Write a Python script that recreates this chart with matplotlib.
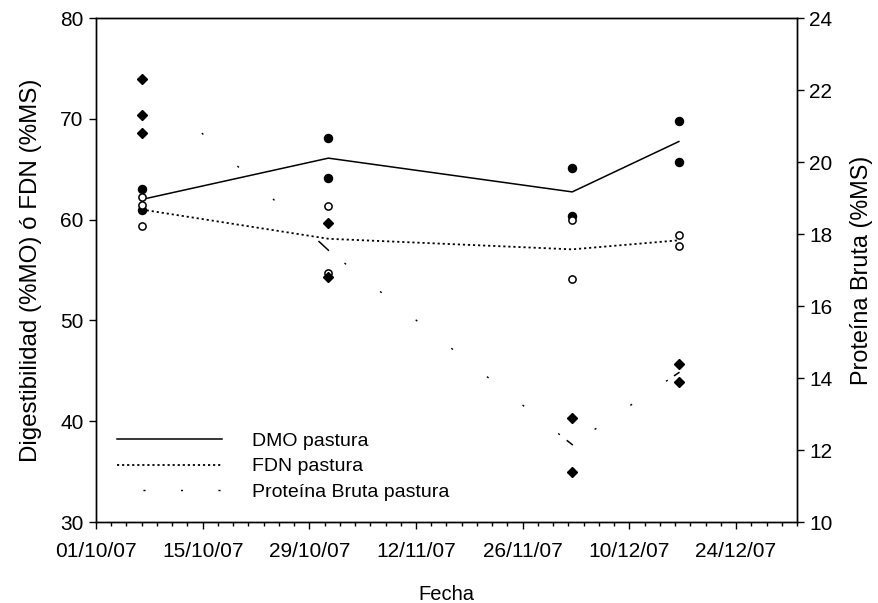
import numpy as np
import matplotlib.pyplot as plt
import matplotlib.dates as mdates
import pandas as pd
from matplotlib.lines import Line2D

plt.rcParams['font.family'] = ['Liberation Sans', 'DejaVu Sans']

"""
data (read off the figure)
"""
fechas = pd.to_datetime(['2007-10-07 00:00', '2007-10-31 12:00',
                         '2007-12-02 12:00', '2007-12-16 12:00'])

# DMO pastura (%MO): individual samples and mean line
dmo_pts = [[63.0, 61.0], [68.1, 64.1], [65.1, 60.4], [69.8, 65.7]]
dmo_line = [62.0, 66.1, 62.75, 67.75]

# FDN pastura (%MS)
fdn_pts = [[62.2, 61.5, 59.4], [61.4, 54.7], [60.0, 54.1], [58.5, 57.4]]
fdn_line = [61.0, 58.1, 57.05, 57.95]

# Proteina Bruta pastura (%MS), right axis
pb_pts = [[22.3, 21.3, 20.8], [18.3, 16.8], [12.9, 11.4], [14.4, 13.9]]
pb_line = [22.35, 17.55, 12.15, 14.15]

xmin, xmax = pd.Timestamp('2007-10-01'), pd.Timestamp('2008-01-01')
major_ticks = pd.date_range('2007-10-01', '2007-12-31', freq='14D')
minor_ticks = pd.date_range('2007-10-01', '2008-01-01', freq='2D')

# dot pattern of the protein line, one per segment, and the short solid
# piece at the end of each segment (fraction of segment)
pb_styles = [(162.3, (1.5, 33.4, 1.5, 33.4, 1.5, 150)),
             (18.0, (1.5, 31.3)),
             (11.5, (1.5, 29.5))]
pb_tails = [0.05, 0.02, 0.04]

"""
plot
"""
fig = plt.figure(figsize=(8.79, 6.03), dpi=100)
ax = fig.add_axes([0.1092, 0.1343, 0.7975, 0.8358])
ax2 = ax.twinx()

for i, d in enumerate(fechas):
  ax.plot([d]*len(dmo_pts[i]), dmo_pts[i], 'o', color='black', ms=5.8, zorder=3)
  ax.plot([d]*len(fdn_pts[i]), fdn_pts[i], 'o', mfc='white', mec='black',
          mew=1.1, ms=5.2, zorder=3)
  ax2.plot([d]*len(pb_pts[i]), pb_pts[i], 'D', color='black', ms=4.8, zorder=3)

ax.plot(fechas, dmo_line, '-', color='black', lw=1.1)
ax.plot(fechas, fdn_line, color='black', lw=1.3, dashes=(1.2, 1.6))

xn = mdates.date2num(fechas)
for i in range(len(xn)-1):
  ax2.plot(xn[i:i+2], pb_line[i:i+2], color='black', lw=1.0,
           linestyle=pb_styles[i])
  f = pb_tails[i]
  ax2.plot([xn[i+1] - f*(xn[i+1]-xn[i]), xn[i+1]],
           [pb_line[i+1] - f*(pb_line[i+1]-pb_line[i]), pb_line[i+1]],
           color='black', lw=1.1)

ax.set_xlim(xmin, xmax)
ax.set_ylim(30, 80)
ax2.set_ylim(10, 24)
ax.set_yticks(np.arange(30, 81, 10))
ax2.set_yticks(np.arange(10, 25, 2))
ax.xaxis.set_major_locator(plt.FixedLocator(mdates.date2num(major_ticks)))
ax.xaxis.set_minor_locator(plt.FixedLocator(mdates.date2num(minor_ticks)))
ax.xaxis.set_major_formatter(mdates.DateFormatter('%d/%m/%y'))

ax.tick_params(axis='both', which='major', labelsize=15, length=5, width=1,
               direction='out', pad=4)
ax.tick_params(axis='x', which='major', pad=9.5)
ax.tick_params(axis='x', which='minor', length=3, width=1, direction='out')
ax2.tick_params(axis='y', which='major', labelsize=15, length=5, width=1,
                direction='out', pad=4)
for a in (ax, ax2):
  for s in a.spines.values():
    s.set_linewidth(1.0)

ax.set_xlabel('Fecha', fontsize=14.5, labelpad=17)
ax.set_ylabel('Digestibilidad (%MO) ó FDN (%MS)', fontsize=17.4, labelpad=13)
ax2.set_ylabel('Proteína Bruta (%MS)', fontsize=16.8, labelpad=12)

handles = [Line2D([], [], color='black', lw=1.1),
           Line2D([], [], color='black', lw=1.3, dashes=(1.2, 1.6)),
           Line2D([], [], color='black', lw=1.0, linestyle=(8.3, (1.5, 25.5)))]
labels = ['DMO pastura', 'FDN pastura', 'Proteína Bruta pastura']
ax2.legend(handles, labels, loc='lower left', bbox_to_anchor=(0.005, 0.007),
           frameon=False, fontsize=14, handlelength=5.4, handletextpad=1.54,
           labelspacing=0.415)

plt.savefig('out.png', dpi=100)
